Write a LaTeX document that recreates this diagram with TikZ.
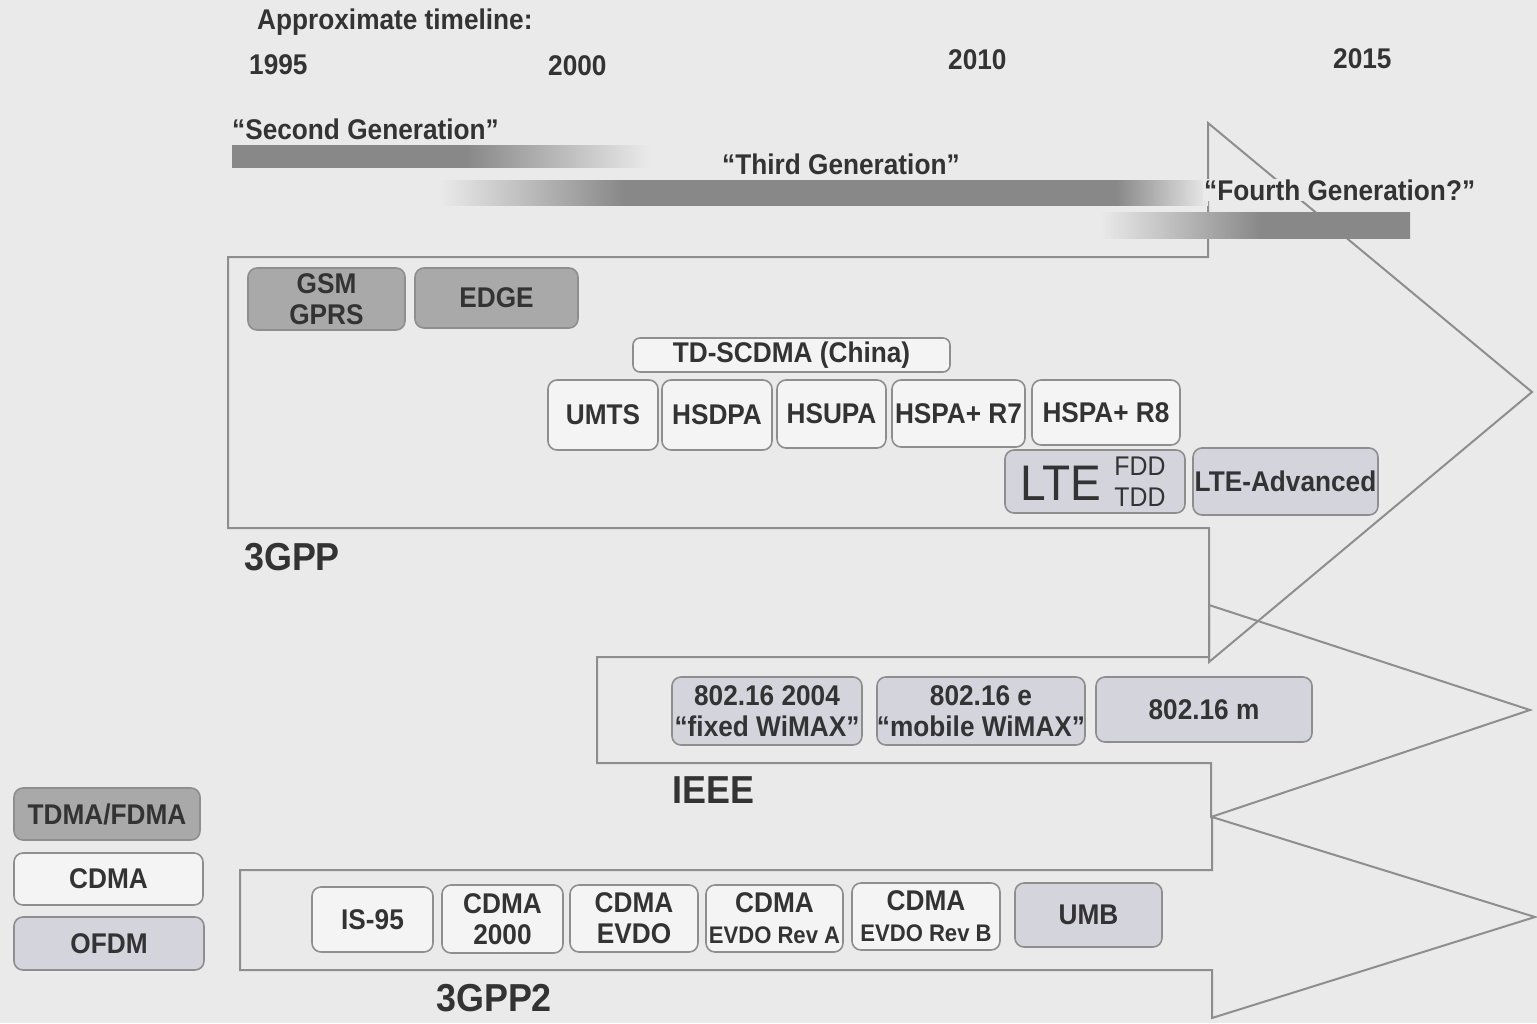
\documentclass[tikz,border=0pt]{standalone}
\usepackage{fontspec}
\setmainfont{Liberation Sans}[FakeStretch=0.92]
\definecolor{bg}{HTML}{EAEAEA}
\definecolor{bordergray}{HTML}{8E8E8E}
\definecolor{boxgray}{HTML}{A9A9A9}
\definecolor{boxblue}{HTML}{D4D4DD}
\definecolor{boxwhite}{HTML}{F4F4F4}
\definecolor{txt}{HTML}{333333}
\definecolor{bardark}{HTML}{888888}
\pgfdeclarehorizontalshading{shtwo}{100bp}{color(0bp)=(bardark); color(53bp)=(bardark); color(75bp)=(bg); color(100bp)=(bg)}
\pgfdeclarehorizontalshading{shthree}{100bp}{color(0bp)=(bg); color(25bp)=(bg); color(37bp)=(bardark); color(69bp)=(bardark); color(75bp)=(bg); color(100bp)=(bg)}
\pgfdeclarehorizontalshading{shfour}{100bp}{color(0bp)=(bg); color(25bp)=(bg); color(51bp)=(bardark); color(100bp)=(bardark)}
\begin{document}
\begin{tikzpicture}[x=1pt,y=-1pt,
  arrowline/.style={draw=bordergray, line width=2pt, line join=miter},
  lab/.style={text=txt, font=\bfseries\fontsize{28.5}{31}\selectfont, inner sep=1pt},
  biglab/.style={text=txt, font=\bfseries\fontsize{39}{42}\selectfont, inner sep=1pt},
  tbox/.style={draw=bordergray, line width=1.6pt, rounded corners=9pt, fill=boxwhite,
    text=txt, font=\bfseries\fontsize{28.5}{31}\selectfont, align=center, inner sep=0pt},
  gbox/.style={tbox, fill=boxgray},
  bbox/.style={tbox, fill=boxblue}]
\fill[bg] (0,0) rectangle (1537,1023);
\useasboundingbox (0,0) rectangle (1537,1023);

% arrows
\draw[arrowline] (228,257) -- (1208,257) -- (1208,123) -- (1532,392) -- (1209,662) -- (1209,528) -- (228,528) -- cycle;
\draw[arrowline] (597,657) -- (1209,657) -- (1209,605) -- (1530,710) -- (1211,817) -- (1211,763) -- (597,763) -- cycle;
\draw[arrowline] (240,870) -- (1212,870) -- (1212,817) -- (1535,917) -- (1212,1018) -- (1212,970) -- (240,970) -- cycle;

% generation bars
\shade[shading=shtwo] (232,145) rectangle (650,167);
\shade[shading=shthree] (440,180) rectangle (1208,205);
\shade[shading=shfour] (1100,212) rectangle (1410,238);

% timeline labels
\node[lab, anchor=west] (approx) at (256,22) {Approximate timeline:};
\node[lab, anchor=west] (y1995) at (248,65) {1995};
\node[lab, anchor=west] (y2000) at (547,66) {2000};
\node[lab, anchor=west] (y2010) at (947,60) {2010};
\node[lab, anchor=west] (y2015) at (1332,59) {2015};
\node[lab, anchor=west] (gen2) at (231,129) {“Second Generation”};
\node[lab, anchor=west] (gen3) at (721,164) {“Third Generation”};
\node[lab, anchor=west, fill=bg] (gen4) at (1203,190) {“Fourth Generation?”};

% group labels
\node[biglab, anchor=west] (l3gpp) at (243,557) {3GPP};
\node[biglab, anchor=west] (lieee) at (671,790) {IEEE};
\node[biglab, anchor=west] (l3gpp2) at (435,998) {3GPP2};

% 3GPP boxes
\node[gbox, minimum width=157pt, minimum height=62pt] (gsm) at (326.5,299) {GSM\\GPRS};
\node[gbox, minimum width=163pt, minimum height=60pt] (edge) at (496.5,298) {EDGE};
\node[tbox, minimum width=317pt, minimum height=34pt, rounded corners=7pt] (tdscdma) at (791.5,355) {TD-SCDMA (China)};
\node[tbox, minimum width=110pt, minimum height=70pt] (umts) at (603,415) {UMTS};
\node[tbox, minimum width=110pt, minimum height=70pt] (hsdpa) at (717,415) {HSDPA};
\node[tbox, minimum width=109pt, minimum height=68pt] (hsupa) at (831.5,414) {HSUPA};
\node[tbox, minimum width=133pt, minimum height=67pt] (hspa7) at (958.5,413.5) {HSPA+ R7};
\node[tbox, minimum width=148pt, minimum height=65pt] (hspa8) at (1106,412.5) {HSPA+ R8};
\node[bbox, minimum width=180pt, minimum height=63pt] (lte) at (1095,481.5) {};
\node[text=txt, font=\fontsize{50}{50}\selectfont, inner sep=0pt] (ltetxt) at (1061,483) {LTE};
\node[text=txt, font=\fontsize{27}{31}\selectfont, align=center, inner sep=0pt] (fddtdd) at (1140,481.5) {FDD\\TDD};
\node[bbox, minimum width=185pt, minimum height=67pt] (lteadv) at (1285.5,481.5) {LTE-Advanced};

% IEEE boxes
\node[bbox, minimum width=190pt, minimum height=68pt] (wimaxf) at (767,711) {802.16 2004\\“fixed WiMAX”};
\node[bbox, minimum width=208pt, minimum height=68pt] (wimaxm) at (981,711) {802.16 e\\“mobile WiMAX”};
\node[bbox, minimum width=216pt, minimum height=65pt] (wimaxn) at (1204,709.5) {802.16 m};

% 3GPP2 boxes
\node[tbox, minimum width=121pt, minimum height=65pt] (is95) at (372.5,919.5) {IS-95};
\node[tbox, minimum width=121pt, minimum height=68pt] (cdma2000) at (502.5,919) {CDMA\\2000};
\node[tbox, minimum width=128pt, minimum height=67pt] (evdo) at (634,918.5) {CDMA\\EVDO};
\node[tbox, minimum width=137pt, minimum height=67pt] (evdoa) at (774.5,918.5) {CDMA\\{\fontsize{24}{28}\selectfont EVDO Rev A}};
\node[tbox, minimum width=148pt, minimum height=67pt] (evdob) at (926,916.5) {CDMA\\{\fontsize{24}{28}\selectfont EVDO Rev B}};
\node[bbox, minimum width=147pt, minimum height=64pt] (umb) at (1088.5,915) {UMB};

% legend
\node[gbox, minimum width=186pt, minimum height=52pt] (legtdma) at (107,814) {TDMA/FDMA};
\node[tbox, minimum width=189pt, minimum height=52pt] (legcdma) at (108.5,879) {CDMA};
\node[bbox, minimum width=190pt, minimum height=53pt] (legofdm) at (109,943.5) {OFDM};
\end{tikzpicture}
\end{document}
